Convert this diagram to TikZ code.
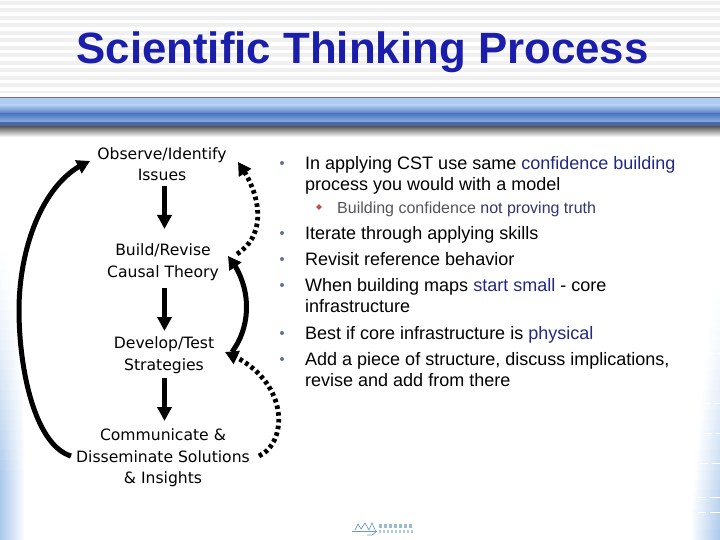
\documentclass[tikz,border=0pt]{standalone}
\usepackage{fontspec}
\setmainfont{Liberation Sans}
\newfontfamily\diagfont{DejaVu Sans}
\usetikzlibrary{arrows.meta,bending,shapes.geometric}
\definecolor{titleblue}{RGB}{26,30,170}
\definecolor{hilite}{RGB}{35,40,130}
\definecolor{subgrey}{RGB}{85,85,95}
\definecolor{subblue}{RGB}{50,55,110}
\definecolor{bulletc}{RGB}{95,115,150}
\definecolor{diamondc}{RGB}{190,80,80}
\definecolor{sideblue}{RGB}{170,200,235}
\definecolor{stripe}{RGB}{240,240,240}
\definecolor{bandline}{RGB}{110,110,170}
\definecolor{bandA}{RGB}{175,205,240}
\definecolor{bandB}{RGB}{80,120,195}
\definecolor{bandC}{RGB}{150,180,225}
\definecolor{bandD}{RGB}{70,105,170}
\definecolor{bandE}{RGB}{100,100,100}
\definecolor{logoc}{RGB}{110,160,190}
\tikzset{
  x=1pt,y=-1pt,
  stage/.style={font=\diagfont\fontsize{15.6}{21.5}\selectfont,align=center,inner sep=0pt,text=black},
  body/.style={font=\fontsize{18}{21}\selectfont,anchor=north west,inner sep=0pt,align=left},
  bulletdot/.style={circle,fill=bulletc,inner sep=0pt,minimum size=4pt},
  flow/.style={line width=4.4pt,-{Triangle[length=14pt,width=14pt,flex]}},
  solidloop/.style={line width=5pt,-{Triangle[length=13pt,width=14pt,flex]}},
  dotloop/.style={line width=4.8pt,dash pattern=on 3.6pt off 3.2pt,-{Triangle[length=13pt,width=14pt,flex]}},
}
\begin{document}
\begin{tikzpicture}
\useasboundingbox (0,0) rectangle (720,540);
\fill[white] (0,0) rectangle (720,540);
% stripes
\foreach \k in {0,...,12}{\fill[stripe] (0,{1+7.5*\k}) rectangle (720,{5+7.5*\k});}
% side gradients
\foreach \y in {230,240,...,530}{
  \pgfmathsetmacro{\p}{min(100,pow((\y-225)/250,1.6)*100)}
  \pgfmathsetmacro{\w}{8+17*min(1,(\y-230)/170)}
  \shade[left color=sideblue!\p!white,right color=white] (0,\y) rectangle (\w,\y+10.3);
}
\foreach \y in {270,280,...,530}{
  \pgfmathsetmacro{\p}{min(100,pow((\y-265)/265,1.6)*100)}
  \pgfmathsetmacro{\w}{720-8-22*min(1,(\y-270)/240)}
  \shade[left color=white,right color=sideblue!\p!white] (\w,\y) rectangle (720,\y+10.3);
}
\foreach \y/\a in {323/708,353/706,403/702,433/704,463/700,497/698,512/698}{
  \draw[white,line width=.6pt] (\a,\y) -- (\a+8,\y) (\a+12,\y) -- (720,\y);
}
% band
\fill[white] (0,93) rectangle (720,97);
\draw[bandline,line width=.8pt] (0,97.5) -- (720,97.5);
\fill[bandA] (0,98) rectangle (720,105);
\shade[top color=bandA,bottom color=bandB] (0,105) rectangle (720,114);
\shade[top color=bandB,bottom color=bandC] (0,114) rectangle (720,123);
\shade[top color=bandD,bottom color=bandE] (0,123) rectangle (720,127);
\shade[top color=bandE,bottom color=white] (0,127) rectangle (720,137);
% title
\node[font=\bfseries\fontsize{43.8}{50}\selectfont,text=titleblue,inner sep=0pt] (title) at (362.5,52) {Scientific Thinking Process};
% stages
\node[stage] (observe) at (162,164) {Observe/Identify\\Issues};
\node[stage] (build) at (163,262) {Build/Revise\\Causal Theory};
\node[stage] (develop) at (164,355) {Develop/Test\\Strategies};
\node[stage] (comm) at (163,458) {Communicate \&\\Disseminate Solutions\\\& Insights};
% coordinates
\coordinate (a1s) at (164.5,186);
\coordinate (a1e) at (164.5,229);
\coordinate (a2s) at (164.5,288);
\coordinate (a2e) at (164.5,331);
\coordinate (a3s) at (164.5,378);
\coordinate (a3e) at (164.5,421);
\draw[flow] (a1s) -- (a1e);
\draw[flow] (a2s) -- (a2e);
\draw[flow] (a3s) -- (a3e);
\coordinate (ls) at (71,456);
\coordinate (lm) at (19,310);
\coordinate (le) at (90,161);
\draw[solidloop] (ls) .. controls (35,445) and (19,370) .. (lm) .. controls (19,250) and (42,180) .. (le);
\coordinate (ms) at (232,352);
\coordinate (me) at (228,256);
\draw[solidloop] (ms) .. controls (252,325) and (252,285) .. (me);
\coordinate (ds) at (237,254);
\coordinate (de) at (238,162);
\draw[dotloop] (ds) .. controls (267,235) and (262,195) .. (de);
\coordinate (bs) at (259,456);
\coordinate (be) at (225,352);
\draw[dotloop] (bs) .. controls (289,442) and (290,378) .. (be);
% bullets
\node[bulletdot] (b1) at (282,163) {};
\node[bulletdot] (b2) at (282,233) {};
\node[bulletdot] (b3) at (282,259) {};
\node[bulletdot] (b4) at (282,285) {};
\node[bulletdot] (b5) at (282,333) {};
\node[bulletdot] (b6) at (282,359) {};
\node[body] (t1) at (305,156) {In applying CST use same \textcolor{hilite}{confidence building}\\process you would with a model};
\node[diamond,aspect=1,fill=diamondc,inner sep=0pt,minimum size=6pt] (d1) at (319,207) {};
\node[font=\fontsize{16}{18}\selectfont,anchor=west,inner sep=0pt,text=subgrey] (t1a) at (337,209) {Building confidence \textcolor{subblue}{not proving truth}};
\node[body] (t2) at (305,226) {Iterate through applying skills};
\node[body] (t3) at (305,252) {Revisit reference behavior};
\node[body] (t4) at (305,278) {When building maps \textcolor{hilite}{start small} - core\\infrastructure};
\node[body] (t5) at (305,326) {Best if core infrastructure is \textcolor{hilite}{physical}};
\node[body] (t6) at (305,352) {Add a piece of structure, discuss implications,\\revise and add from there};
% logo
\draw[logoc,line width=.7pt] (352,531) -- (377,531);
\draw[logoc,line width=.7pt] (355,530) -- (358,524) -- (361,529) -- (365,523) -- (369,530) -- (372,523) -- (376,532) -- (372,535) -- (367,535);
\foreach \k in {0,...,6}{\fill[logoc!70] ({379+5*\k},524) rectangle ({382+5*\k},528);}
\foreach \k in {0,...,8}{\fill[logoc!55] ({379+4*\k},530) rectangle ({381+4*\k},533);}
\end{tikzpicture}
\end{document}
